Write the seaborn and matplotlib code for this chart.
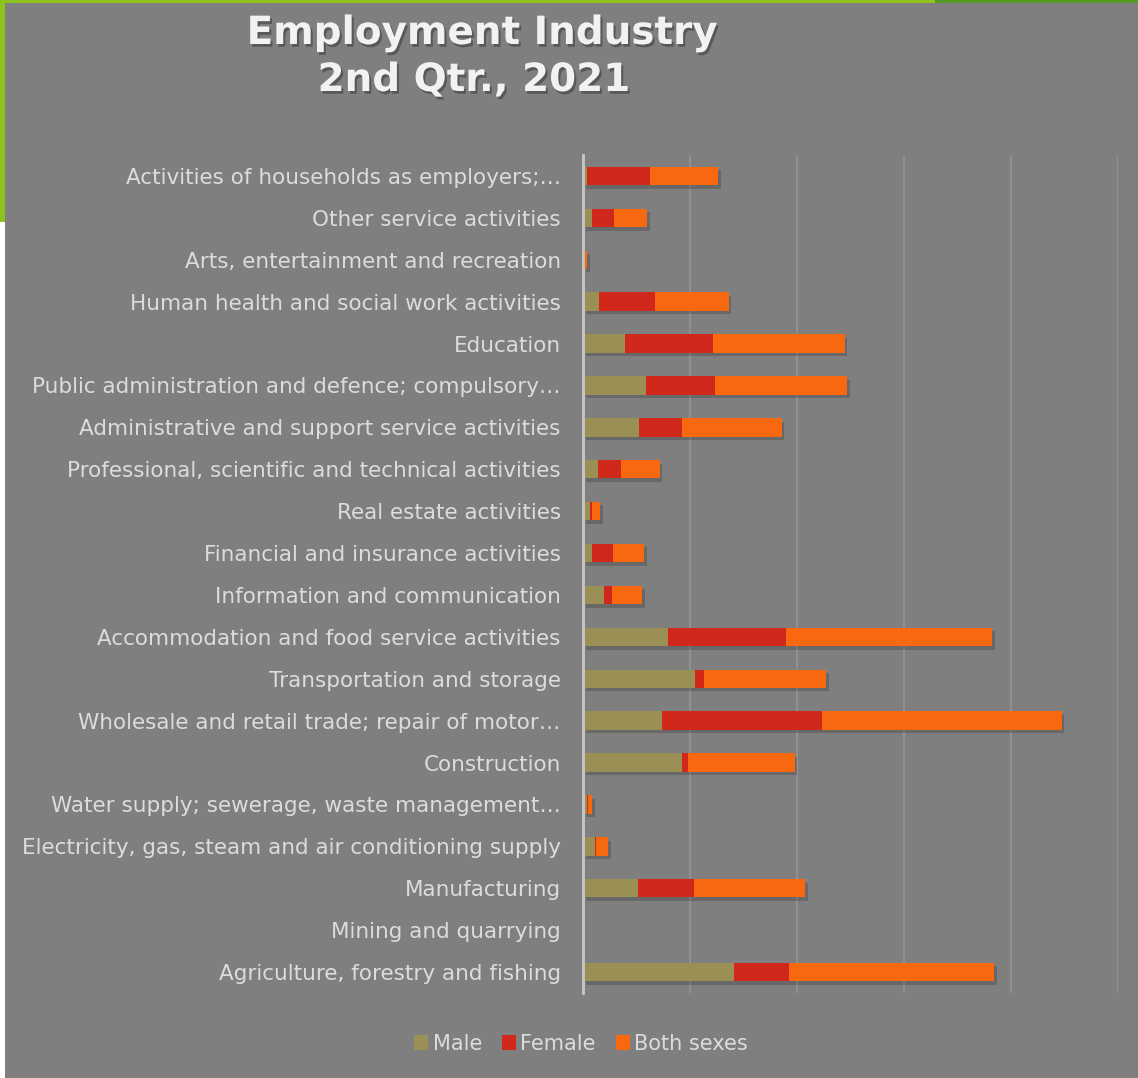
import matplotlib
matplotlib.use("Agg")
import matplotlib.pyplot as plt
import matplotlib.patheffects as pe
from matplotlib.patches import Patch, Rectangle
import seaborn as sns
import pandas as pd
import numpy as np

industries = [
    "Activities of households as employers;…",
    "Other service activities",
    "Arts, entertainment and recreation",
    "Human health and social work activities",
    "Education",
    "Public administration and defence; compulsory…",
    "Administrative and support service activities",
    "Professional, scientific and technical activities",
    "Real estate activities",
    "Financial and insurance activities",
    "Information and communication",
    "Accommodation and food service activities",
    "Transportation and storage",
    "Wholesale and retail trade; repair of motor…",
    "Construction",
    "Water supply; sewerage, waste management…",
    "Electricity, gas, steam and air conditioning supply",
    "Manufacturing",
    "Mining and quarrying",
    "Agriculture, forestry and fishing",
]
male = [3.4, 8.1, 0.6, 14.6, 39.0, 58.6, 52.8, 13.6, 6.5, 8.8, 19.5, 79.3, 104.3, 73.5, 92.4, 4.0, 11.2, 51.8, 0.2, 140.8]
female = [59.0, 21.3, 1.4, 52.4, 82.2, 64.3, 39.3, 21.7, 1.5, 19.0, 7.5, 110.7, 8.4, 150.0, 5.4, 0.4, 0.6, 51.5, 0.05, 51.5]
both = [64.0, 30.2, 2.0, 69.1, 123.2, 124.2, 93.5, 36.2, 8.0, 29.5, 28.0, 192.0, 114.8, 223.7, 99.9, 4.4, 11.8, 104.6, 0.25, 192.2]

series_names = ["Male", "Female", "Both sexes"]
colors = ["#9a8f54", "#d0281a", "#f8680f"]

df = pd.DataFrame({"industry": industries, "male": male, "female": female, "both": both})
df["cum_mf"] = df["male"] + df["female"]
df["cum_all"] = df["cum_mf"] + df["both"]

W, H = 1138, 1078
fig = plt.figure(figsize=(W / 100, H / 100), dpi=100, facecolor="white")

# background panel and green frame accents
bg = "#7f7f7f"
fig.patches.append(Rectangle((5 / W, 0), 1 - 5 / W, 1 - 3 / H, transform=fig.transFigure,
                             facecolor=bg, edgecolor="none", zorder=-10))
fig.patches.append(Rectangle((0, 1 - 3 / H), 935 / W, 3 / H, transform=fig.transFigure,
                             facecolor="#8dc21f", edgecolor="none", zorder=-10))
fig.patches.append(Rectangle((935 / W, 1 - 3 / H), 1 - 935 / W, 3 / H, transform=fig.transFigure,
                             facecolor="#579b27", edgecolor="none", zorder=-10))
fig.patches.append(Rectangle((0, 1 - 222 / H), 5 / W, 222 / H, transform=fig.transFigure,
                             facecolor="#8dc21f", edgecolor="none", zorder=-10))

left, right = 583 / W, 1118 / W
bottom, top = 1 - 993 / H, 1 - 155 / H
ax = fig.add_axes([left, bottom, right - left, top - bottom])
ax.set_facecolor("none")

shadow = [pe.SimplePatchShadow(offset=(2, -2.5), shadow_rgbFace="black", alpha=0.18), pe.Normal()]

sns.barplot(data=df, y="industry", x="cum_all", color=colors[2], orient="h",
            width=0.44, ax=ax, saturation=1, zorder=3)
for p in ax.patches:
    p.set_path_effects(shadow)
sns.barplot(data=df, y="industry", x="cum_mf", color=colors[1], orient="h",
            width=0.44, ax=ax, saturation=1, zorder=4)
sns.barplot(data=df, y="industry", x="male", color=colors[0], orient="h",
            width=0.44, ax=ax, saturation=1, zorder=5)

ax.set_xlim(0, 500)
ax.set_ylim(len(industries) - 0.5, -0.5)
ax.set_xticks([0, 100, 200, 300, 400, 500])
ax.set_xticklabels([])
ax.tick_params(axis="both", length=0)
ax.tick_params(axis="y", pad=16, labelsize=15.5, labelcolor="#dcdcdc")
ax.grid(axis="x", color="#909090", linewidth=1.6, zorder=0)
ax.set_axisbelow(True)
for s in ["top", "right", "bottom"]:
    ax.spines[s].set_visible(False)
ax.spines["left"].set_color("#c9c9c9")
ax.spines["left"].set_linewidth(2)
ax.spines["left"].set_zorder(6)
ax.set_xlabel("")
ax.set_ylabel("")

title_fx = [pe.withSimplePatchShadow(offset=(1.5, -2), shadow_rgbFace="black", alpha=0.3)]
fig.text(482 / W, 1 - 33 / H, "Employment Industry", ha="center", va="center",
         fontsize=28, fontweight="bold", color="#f2f2f2", path_effects=title_fx)
fig.text(474 / W, 1 - 80 / H, "2nd Qtr., 2021", ha="center", va="center",
         fontsize=28, fontweight="bold", color="#f2f2f2", path_effects=title_fx)

handles = [Patch(facecolor=c, edgecolor="none") for c in colors]
leg = fig.legend(handles, series_names, loc="center", bbox_to_anchor=(581 / W, 1 - 1044 / H),
                 ncol=3, frameon=False, fontsize=15, handlelength=0.7, handleheight=0.7,
                 handletextpad=0.2, columnspacing=0.95)
for t in leg.get_texts():
    t.set_color("#dcdcdc")

fig.savefig("out.png", dpi=100, facecolor=fig.get_facecolor())
